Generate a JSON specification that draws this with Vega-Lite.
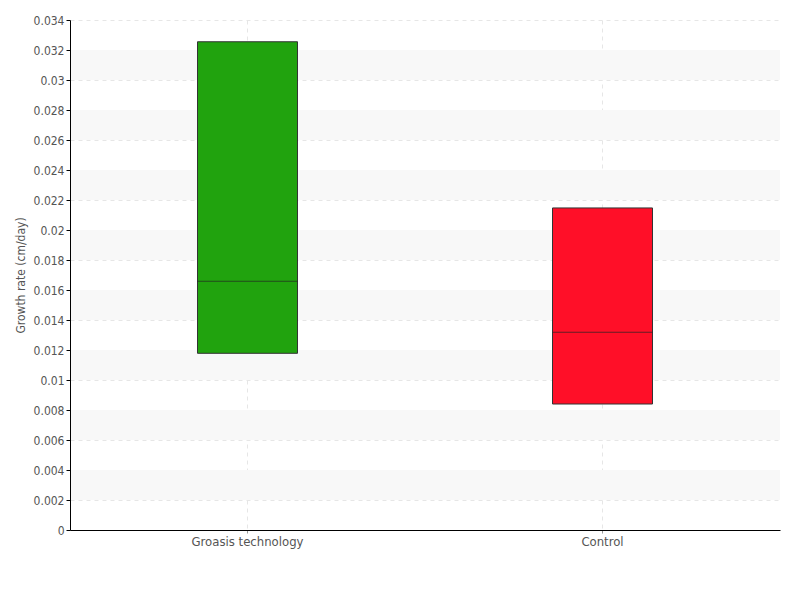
{
  "$schema": "https://vega.github.io/schema/vega-lite/v6.json",
  "width": 710,
  "height": 510,
  "autosize": {"type": "none"},
  "padding": {"left": 70, "top": 20, "right": 20, "bottom": 70},
  "background": "white",
  "config": {
    "view": {"stroke": null},
    "font": "DejaVu Sans Condensed",
    "axis": {"labelFont": "DejaVu Sans Condensed", "titleFont": "DejaVu Sans Condensed", "labelColor": "#555555", "titleColor": "#555555", "titleFontWeight": "normal", "labelFontSize": 12, "titleFontSize": 12},
    "axisY": {
      "values": [0, 0.001, 0.002, 0.003, 0.004, 0.005, 0.006, 0.007, 0.008, 0.009, 0.01, 0.011, 0.012, 0.013, 0.014, 0.015, 0.016, 0.017, 0.018, 0.019, 0.02, 0.021, 0.022, 0.023, 0.024, 0.025, 0.026, 0.027, 0.028, 0.029, 0.03, 0.031, 0.032, 0.033, 0.034],
      "labelExpr": "round(datum.value*1000) % 2 == 1 ? '' : format(datum.value, '')",
      "labelOverlap": false,
      "tickColor": {"condition": {"test": "round(datum.value*1000) % 2 == 1", "value": "#dd0000"}, "value": "black"},
      "tickSize": 4,
      "domainColor": "black",
      "grid": true,
      "gridDash": [4, 4],
      "gridColor": "#e6e6e6",
      "gridOpacity": {"condition": {"test": "round(datum.value*1000) % 2 == 1", "value": 0}, "value": 1},
      "labelPadding": 2,
      "titlePadding": 6
    }
  },
  "datasets": {
    "boxes": [
      {"group": "Groasis technology", "q1": 0.01178, "median": 0.01658, "q3": 0.03255},
      {"group": "Control", "q1": 0.0084, "median": 0.01318, "q3": 0.02147}
    ],
    "bands": [
      {"lo": 0.002, "hi": 0.004},
      {"lo": 0.006, "hi": 0.008},
      {"lo": 0.010, "hi": 0.012},
      {"lo": 0.014, "hi": 0.016},
      {"lo": 0.018, "hi": 0.020},
      {"lo": 0.022, "hi": 0.024},
      {"lo": 0.026, "hi": 0.028},
      {"lo": 0.030, "hi": 0.032}
    ]
  },
  "layer": [
    {
      "data": {"name": "bands"},
      "mark": {"type": "rect", "color": "#f8f8f8", "x": 1, "x2": {"expr": "width"}},
      "encoding": {
        "y": {"field": "lo", "type": "quantitative", "scale": {"domain": [0, 0.034], "nice": false},
          "axis": {"title": "Growth rate (cm/day)"}},
        "y2": {"field": "hi"}
      }
    },
    {
      "data": {"name": "boxes"},
      "mark": {"type": "bar", "size": 100, "stroke": "#333333", "strokeWidth": 1},
      "encoding": {
        "x": {"field": "group", "type": "nominal", "sort": ["Groasis technology", "Control"],
          "scale": {"paddingInner": 0, "paddingOuter": 0},
          "axis": {"title": null, "labelAngle": 0, "labelFontSize": 13, "domainColor": "black", "tickColor": "#999999", "tickSize": 3, "labelPadding": 2,
            "grid": true, "gridDash": [4, 4], "gridColor": "#e6e6e6", "labelColor": "#555555"}},
        "y": {"field": "q1", "type": "quantitative", "axis": {"title": "Growth rate (cm/day)"}},
        "y2": {"field": "q3"},
        "color": {"field": "group", "type": "nominal", "scale": {"domain": ["Groasis technology", "Control"], "range": ["#21a30e", "#ff0f28"]}, "legend": null}
      }
    },
    {
      "data": {"name": "boxes"},
      "mark": {"type": "tick", "size": 100, "thickness": 1, "color": "#222222"},
      "encoding": {
        "x": {"field": "group", "type": "nominal", "sort": ["Groasis technology", "Control"]},
        "y": {"field": "median", "type": "quantitative", "axis": {"title": "Growth rate (cm/day)"}}
      }
    }
  ]
}
